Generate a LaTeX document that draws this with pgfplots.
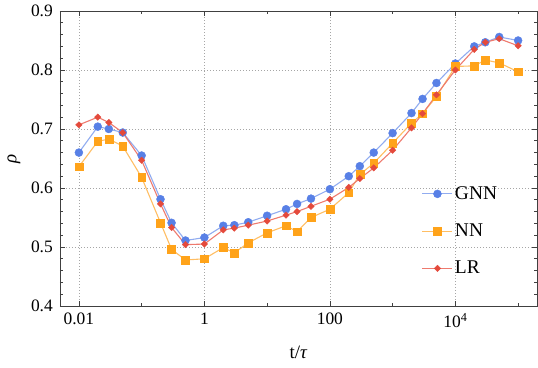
\documentclass[border=0pt]{standalone}
\usepackage{fontspec}
\setmainfont{Liberation Serif}
\usepackage{pgfplots}
\pgfplotsset{compat=1.18}

\definecolor{gnnc}{RGB}{88,128,230}
\definecolor{gnnl}{RGB}{145,172,240}
\definecolor{nnc}{RGB}{255,163,26}
\definecolor{nnl}{RGB}{255,190,100}
\definecolor{lrc}{RGB}{228,74,60}
\definecolor{lrl}{RGB}{238,122,110}

\begin{document}
\begin{tikzpicture}
  \path[use as bounding box] (-60bp,-62bp) rectangle (478bp,306bp);
  \begin{axis}[
    scale only axis, width=477bp, height=295bp,
    xmode=log, log basis x=10,
    xmin=0.005, xmax=200000, ymin=0.4, ymax=0.9,
    xtick={0.01,1,100,10000},
    xticklabels={0.01,1,100,10\textsuperscript{4}},
    minor xtick={0.1,10,1000,100000},
    ytick={0.4,0.5,0.6,0.7,0.8,0.9},
    yticklabels={0.4,0.5,0.6,0.7,0.8,0.9},
    minor y tick num=4,
    major tick length=5bp, minor tick length=3bp,
    tick style={draw=black!75, line width=0.6bp},
    axis line style={draw=black!75, line width=0.8bp},
    xmajorgrids, ymajorgrids,
    grid style={draw=black!35, line width=0.6bp, dash pattern=on 1bp off 2bp},
    tick label style={font=\fontsize{17.5}{19}\selectfont, inner sep=0pt},
    yticklabel style={xshift=-7bp},
    xticklabel style={yshift=-7bp},
    xlabel={t/\textit{τ}},
    ylabel={\textit{ρ}},
    label style={font=\fontsize{19}{21}\selectfont},
    xlabel style={at={(axis description cs:0.5,0)}, anchor=center, yshift=-46bp},
    ylabel style={at={(axis description cs:0,0.5)}, anchor=center, yshift=46bp},
    legend style={at={(axis description cs:0.752,0.254)}, anchor=west,
      draw=none, fill=none, font=\fontsize{19.5}{21}\selectfont, row sep=19bp},
    legend cell align=left,
    legend image code/.code={\draw[mark repeat=2, mark phase=2]
      plot coordinates {(0bp,0bp) (15bp,0bp) (30bp,0bp)};},
  ]
    \addplot[gnnl, line width=1.1bp, mark=*, mark size=4bp,
             mark options={fill=gnnc, draw=gnnc, line width=0.4bp}]
      coordinates {(0.01,0.660) (0.02,0.704) (0.03,0.700) (0.05,0.694) (0.1,0.655)
                   (0.2,0.581) (0.3,0.541) (0.5,0.511) (1,0.516) (2,0.536)
                   (3,0.537) (5,0.542) (10,0.553) (20,0.564) (30,0.573)
                   (50,0.582) (100,0.598) (200,0.620) (300,0.637) (500,0.660)
                   (1000,0.693) (2000,0.727) (3000,0.751) (5000,0.778) (10000,0.811)
                   (20000,0.840) (30000,0.847) (50000,0.856) (100000,0.850)};
    \addlegendentry{GNN}
    \addplot[nnl, line width=1.1bp, mark=square*, mark size=3.9bp,
             mark options={fill=nnc, draw=nnc, line width=0.4bp}]
      coordinates {(0.01,0.636) (0.02,0.679) (0.03,0.683) (0.05,0.671) (0.1,0.618)
                   (0.2,0.541) (0.3,0.496) (0.5,0.478) (1,0.480) (2,0.499)
                   (3,0.490) (5,0.507) (10,0.524) (20,0.536) (30,0.526)
                   (50,0.550) (100,0.564) (200,0.592) (300,0.623) (500,0.642)
                   (1000,0.676) (2000,0.710) (3000,0.726) (5000,0.755) (10000,0.806)
                   (20000,0.807) (30000,0.817) (50000,0.812) (100000,0.797)};
    \addlegendentry{NN}
    \addplot[lrl, line width=1.1bp, mark=diamond*, mark size=3.2bp,
             mark options={fill=lrc, draw=lrc, line width=0.4bp, xscale=1.35}]
      coordinates {(0.01,0.707) (0.02,0.720) (0.03,0.711) (0.05,0.694) (0.1,0.647)
                   (0.2,0.573) (0.3,0.533) (0.5,0.504) (1,0.505) (2,0.529)
                   (3,0.532) (5,0.537) (10,0.544) (20,0.554) (30,0.560)
                   (50,0.569) (100,0.581) (200,0.601) (300,0.616) (500,0.634)
                   (1000,0.664) (2000,0.702) (3000,0.726) (5000,0.758) (10000,0.800)
                   (20000,0.835) (30000,0.847) (50000,0.853) (100000,0.841)};
    \addlegendentry{LR}
  \end{axis}
\end{tikzpicture}
\end{document}
